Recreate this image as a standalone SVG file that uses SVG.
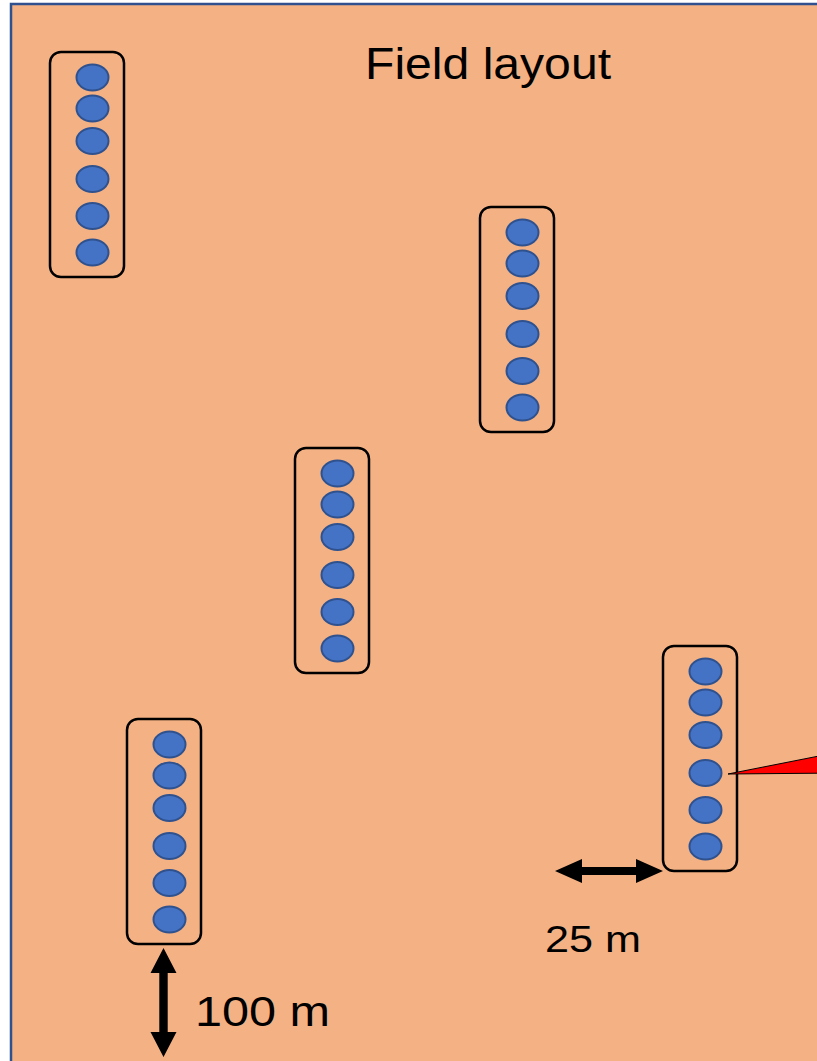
<svg xmlns="http://www.w3.org/2000/svg" width="817" height="1061" viewBox="0 0 817 1061">
<defs>
<style>
.bg{fill:#F4B183;stroke:#2F528F;stroke-width:2.5}
.box{fill:none;stroke:#000;stroke-width:2.5}
.dot{fill:#4472C4;stroke:#2F528F;stroke-width:2}
.lbl{font-family:"Liberation Sans",Arial,sans-serif;fill:#000}
.arr{fill:#000}
.call{fill:#FF0000;stroke:#000;stroke-width:1}
</style>
<g id="plot">
<rect class="box" x="0" y="0" width="74" height="225" rx="11"/>
<ellipse class="dot" cx="42.5" cy="25.5" rx="16" ry="13"/>
<ellipse class="dot" cx="42.5" cy="56.5" rx="16" ry="13"/>
<ellipse class="dot" cx="42.5" cy="89" rx="16" ry="13"/>
<ellipse class="dot" cx="42.5" cy="127" rx="16" ry="13"/>
<ellipse class="dot" cx="42.5" cy="164" rx="16" ry="13"/>
<ellipse class="dot" cx="42.5" cy="200.5" rx="16" ry="13"/>
</g>
</defs>
<rect class="bg" x="11" y="4" width="900" height="1100"/>
<text class="lbl" x="365" y="79" font-size="45" textLength="246" lengthAdjust="spacingAndGlyphs">Field layout</text>
<g id="node1"><use href="#plot" x="50" y="52"/></g>
<g id="node2"><use href="#plot" x="480" y="207"/></g>
<g id="node3"><use href="#plot" x="295" y="448"/></g>
<g id="node4"><use href="#plot" x="127" y="719"/></g>
<g id="node5"><use href="#plot" x="663" y="646"/></g>
<g id="connectors">
<polygon class="call" points="728,774 900,740 900,772.5"/>
<polygon class="arr" points="555,871 582,859 582,867 636,867 636,859 663,871 636,883 636,875 582,875 582,883"/>
<polygon class="arr" points="163.5,948 176.5,973 167.7,973 167.7,1032 176.5,1032 163.5,1057 150.5,1032 159.3,1032 159.3,973 150.5,973"/>
</g>
<text class="lbl" x="545" y="952" font-size="37" textLength="96" lengthAdjust="spacingAndGlyphs">25 m</text>
<text class="lbl" x="195" y="1025.5" font-size="43" textLength="135" lengthAdjust="spacingAndGlyphs">100 m</text>
</svg>
